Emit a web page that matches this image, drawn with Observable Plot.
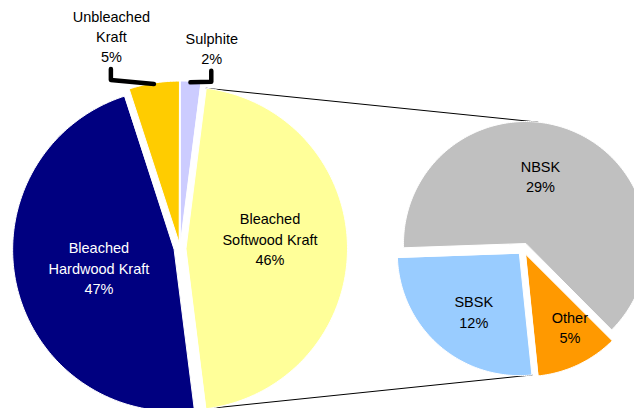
<!DOCTYPE html>
<html><head><meta charset="utf-8">
<script src="https://cdn.jsdelivr.net/npm/d3@7"></script>
<script src="https://cdn.jsdelivr.net/npm/@observablehq/plot@0.6"></script>
<style>html,body{margin:0;padding:0;overflow:hidden;background:#fff}</style>
</head><body><div id="chart"></div>
<script>
// ---- data ----
const mainCategories = ["Bleached Softwood Kraft", "Bleached Hardwood Kraft", "Unbleached Kraft", "Sulphite"];
const mainValues = [46, 47, 5, 2];
const mainColors = ["#FFFF99", "#000080", "#FFCC00", "#CCCCFF"];
const subCategories = ["NBSK", "Other", "SBSK"];
const subValues = [29, 5, 12];
const subColors = ["#C0C0C0", "#FF9900", "#99CCFF"];

// ---- layout ----
const W = 634, H = 408;
const FONT = "Liberation Sans, Arial, sans-serif";
const FS = 14.5, LH = 1.41;
const mainPie = {cx: 179.5, cy: 248, r: 161.5, explode: 6};
const subPie = {cx: 522.8, cy: 248.6, r: 122, explode: 6, start: -92};
// label placement: [angle (deg, clockwise from north), radius fraction] relative to exploded slice apex
const mainLabelAt = [[82.9, 0.524], [257.1, 0.478], [341.9, 1.349], [9.15, 1.223]];
const mainLabelOutside = [false, false, true, true];
const mainLabelColor = ["#000", "#fff", "#000", "#000"];
const subLabelAt = [[12.4, 0.57], [148.5, 0.69], [218.5, 0.60]];

const rad = a => a * Math.PI / 180;
const deg = a => a * 180 / Math.PI;
const polar = (x, y, a, r) => [x + r * Math.sin(rad(a)), y - r * Math.cos(rad(a))];
const wrap = s => { const w = s.split(" "); return w.length > 1 ? w[0] + "\n" + w.slice(1).join(" ") : s; };

function buildSlices(pie, values, start, colors, cats) {
  const total = d3.sum(values);
  let a = start;
  return values.map((v, i) => {
    const a0 = a, a1 = a + v / total * 360; a = a1;
    const mid = (a0 + a1) / 2;
    const [ox, oy] = polar(pie.cx, pie.cy, mid, pie.explode);
    const n = Math.max(2, Math.ceil(a1 - a0) + 1);
    const pts = [[ox, oy]];
    for (let k = 0; k < n; k++) pts.push(polar(ox, oy, a0 + (a1 - a0) * k / (n - 1), pie.r));
    return {cat: cats[i], value: v, color: colors[i], a0, a1, mid, ox, oy, r: pie.r, pts};
  });
}

const mainTotal = d3.sum(mainValues);
const mainStart = 90 - mainValues[0] / mainTotal * 180; // aggregated slice faces the secondary pie
const mainSlices = buildSlices(mainPie, mainValues, mainStart, mainColors, mainCategories);
const subSlices = buildSlices(subPie, subValues, subPie.start, subColors, subCategories);

// tangent connectors from aggregated slice corners to the secondary pie
function tangent(P, s, sign) {
  const vx = P[0] - s.ox, vy = P[1] - s.oy;
  const d = Math.hypot(vx, vy);
  const dir = deg(Math.atan2(vx, -vy));
  const a = dir + sign * deg(Math.acos(s.r / d));
  return polar(s.ox, s.oy, a, s.r);
}
const agg = mainSlices[0];
const pTop = polar(agg.ox, agg.oy, agg.a0, agg.r);
const pBot = polar(agg.ox, agg.oy, agg.a1, agg.r);
const topCircle = subSlices[0];
const botCircle = subSlices[2];
const connectors = [
  [pTop, tangent(pTop, topCircle, +1)],
  [pBot, tangent(pBot, botCircle, -1)]
];

// labels
const labels = [];
mainSlices.forEach((s, i) => {
  const [a, f] = mainLabelAt[i];
  const [x, y] = polar(s.ox, s.oy, a, f * s.r);
  labels.push({x, y, text: wrap(s.cat) + "\n" + s.value + "%", color: mainLabelColor[i], outside: mainLabelOutside[i], s});
});
subSlices.forEach((s, i) => {
  const [a, f] = subLabelAt[i];
  const [x, y] = polar(s.ox, s.oy, a, f * s.r);
  labels.push({x, y, text: wrap(s.cat) + "\n" + s.value + "%", color: "#000"});
});

// leader lines for outside labels
const leaders = labels.filter(d => d.outside).map(d => {
  const nLines = d.text.split("\n").length;
  const lastBase = d.y + (nLines - 1) / 2 * FS * LH + FS * 0.35;
  const s = d.s;
  return [polar(s.ox, s.oy, s.mid, s.r - 1), [d.x - 0.5, lastBase + 19], [d.x - 0.5, lastBase + 8]];
});

const marks = [];
connectors.forEach(c => marks.push(Plot.line(c, {x: d => d[0], y: d => d[1], stroke: "#000", strokeWidth: 1})));
[...mainSlices, ...subSlices].forEach(s => marks.push(
  Plot.line(s.pts, {x: d => d[0], y: d => d[1], fill: s.color, stroke: "#fff", strokeWidth: 1, curve: "linear-closed"})
));
leaders.forEach(l => marks.push(Plot.line(l, {x: d => d[0], y: d => d[1], stroke: "#000", strokeWidth: 4.5, strokeLinecap: "round", strokeLinejoin: "round", curve: "linear"})));
marks.push(Plot.text(labels, {x: "x", y: "y", text: "text", fill: "color", fontSize: FS, lineHeight: LH, fontFamily: FONT, textAnchor: "middle", lineAnchor: "middle"}));

const chart = Plot.plot({
  width: W, height: H,
  margin: 0,
  style: {fontFamily: FONT, background: "#fff"},
  x: {domain: [0, W], range: [0, W], axis: null},
  y: {domain: [0, H], range: [0, H], axis: null},
  marks
});
document.getElementById("chart").appendChild(chart);
</script>
</body></html>
